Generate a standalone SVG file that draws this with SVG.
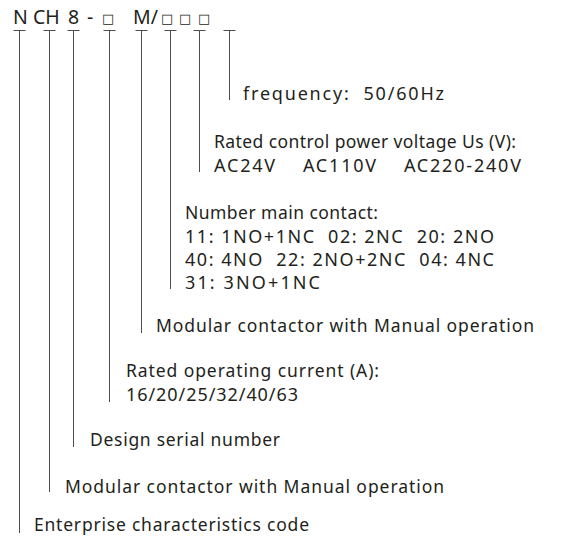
<svg xmlns="http://www.w3.org/2000/svg" width="573" height="540" viewBox="0 0 573 540">
<style>
.t{font-family:"Noto Sans","Open Sans","DejaVu Sans",sans-serif;font-size:17.5px;fill:#231f20}
.n{font-size:18px}
.h{font-family:"Noto Sans","Open Sans","DejaVu Sans",sans-serif;font-size:19.5px;fill:#231f20}
.b{font-family:"DejaVu Sans",sans-serif;font-size:13px;fill:#231f20}
.l{stroke:#4d4d4d;stroke-width:1;fill:none}
</style>
<rect width="573" height="540" fill="#fff"/>
<g id="header">
<text class="h" x="13" y="24">N</text>
<text class="h" x="33" y="24">CH</text>
<text class="h" x="68" y="24">8</text>
<text class="h" x="87" y="24">-</text>
<text class="b" x="102" y="23">□</text>
<text class="h" x="133" y="24">M/</text>
<text class="b" x="161" y="23">□</text>
<text class="b" x="179" y="23">□</text>
<text class="b" x="198" y="23">□</text>
</g>
<g id="connectors" class="l">
<path d="M13.5 30.5h12M19.5 30.5V533"/>
<path d="M43.5 30.5h12M49.5 30.5V492"/>
<path d="M67.5 30.5h12M73.5 30.5V447"/>
<path d="M103.5 30.5h12M109.5 30.5V402"/>
<path d="M135.5 30.5h12M141.5 30.5V333"/>
<path d="M164.5 30.5h12M170.5 30.5V289"/>
<path d="M193.5 30.5h12M199.5 30.5V172"/>
<path d="M223.5 30.5h12M229.5 30.5V100"/>
</g>
<g id="frequency"><text class="t n" x="243" y="100" xml:space="preserve" textLength="201" lengthAdjust="spacing">frequency:  50/60Hz</text></g>
<g id="voltage"><text class="t" x="214" y="148" textLength="302" lengthAdjust="spacing">Rated control power voltage Us (V):</text><text class="t n" x="214" y="172" xml:space="preserve" textLength="307" lengthAdjust="spacing">AC24V    AC110V    AC220-240V</text></g>
<g id="contacts"><text class="t" x="185" y="219" textLength="193" lengthAdjust="spacing">Number main contact:</text><text class="t n" x="185" y="243" xml:space="preserve" textLength="309" lengthAdjust="spacing">11: 1NO+1NC  02: 2NC  20: 2NO</text><text class="t n" x="185" y="266" xml:space="preserve" textLength="309" lengthAdjust="spacing">40: 4NO  22: 2NO+2NC  04: 4NC</text><text class="t n" x="185" y="289" textLength="135" lengthAdjust="spacing">31: 3NO+1NC</text></g>
<g id="manual1"><text class="t" x="156" y="332" textLength="378" lengthAdjust="spacing">Modular contactor with Manual operation</text></g>
<g id="current"><text class="t" x="126" y="377" textLength="253" lengthAdjust="spacing">Rated operating current (A):</text><text class="t n" x="126" y="401" textLength="172" lengthAdjust="spacing">16/20/25/32/40/63</text></g>
<g id="serial"><text class="t" x="90" y="446" textLength="190" lengthAdjust="spacing">Design serial number</text></g>
<g id="manual2"><text class="t" x="65" y="493" textLength="379" lengthAdjust="spacing">Modular contactor with Manual operation</text></g>
<g id="enterprise"><text class="t" x="34" y="531" textLength="275" lengthAdjust="spacing">Enterprise characteristics code</text></g>
</svg>
